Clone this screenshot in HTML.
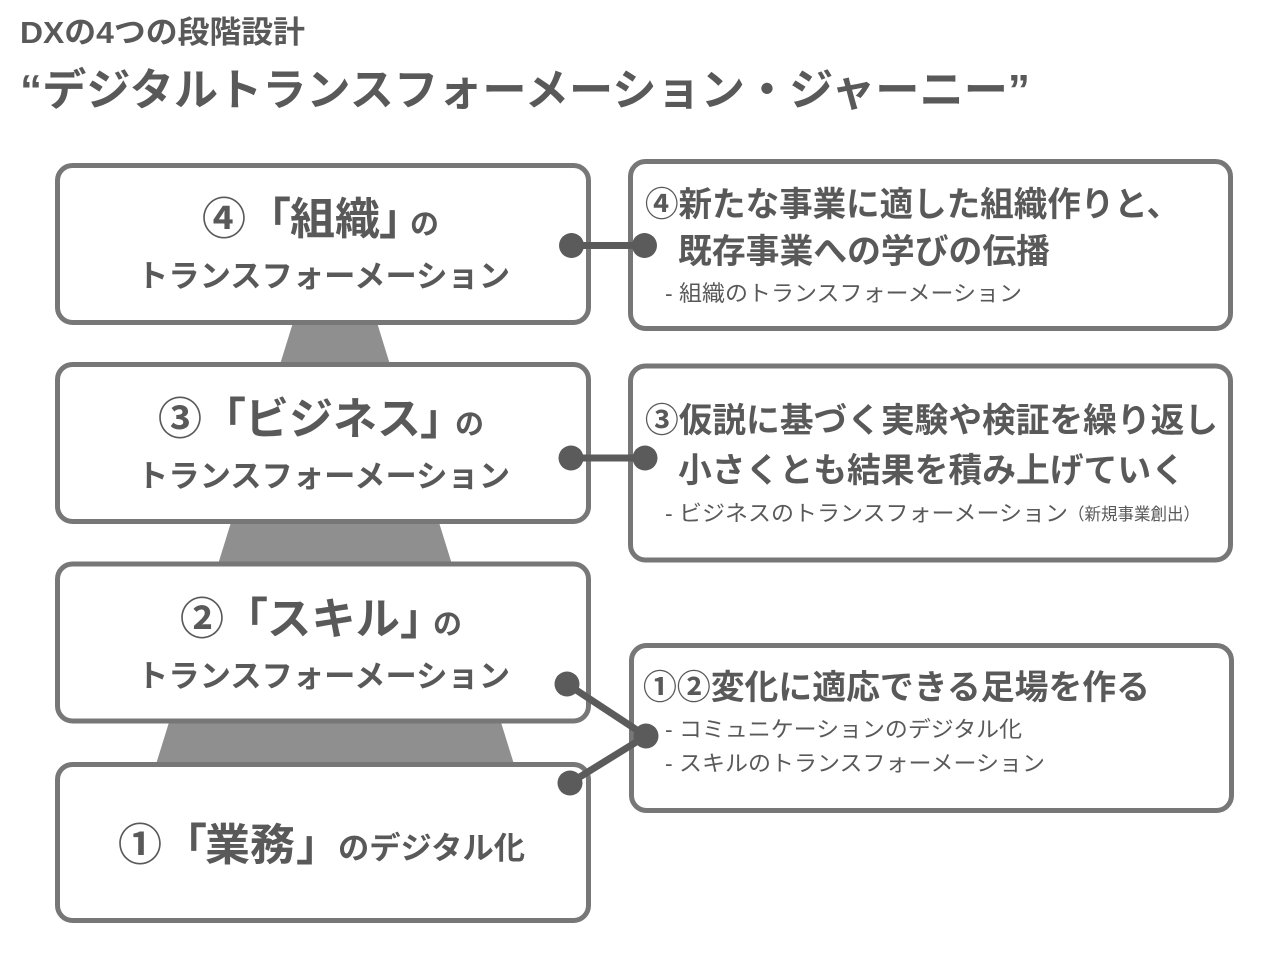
<!DOCTYPE html>
<html lang="ja">
<head>
<meta charset="utf-8">
<style>
  html,body{margin:0;padding:0;background:#fff;}
  svg{display:block;}
  text{font-family:"Liberation Sans","Noto Sans CJK JP",sans-serif;fill:#595959;}
  .b{font-weight:bold;}
</style>
</head>
<body>
<svg width="1280" height="954" viewBox="0 0 1280 954" xmlns="http://www.w3.org/2000/svg">
  <rect x="0" y="0" width="1280" height="954" fill="#fff"/>

  <!-- Titles -->
  <text class="b" x="20" y="43" font-size="31" textLength="285" lengthAdjust="spacingAndGlyphs">DXの4つの段階設計</text>
  <text class="b" x="20" y="105" font-size="44" textLength="1010" lengthAdjust="spacingAndGlyphs">“デジタルトランスフォーメーション・ジャーニー”</text>

  <!-- Pyramid behind -->
  <polygon points="300,300 370,300 522,790 148,790" fill="#8f8f8f"/>

  <!-- Left boxes -->
  <g fill="#fff" stroke="#777" stroke-width="5">
    <rect x="57.5" y="165.5" width="531" height="157" rx="15" ry="15"/>
    <rect x="57.5" y="364.5" width="531" height="157" rx="15" ry="15"/>
    <rect x="57.5" y="564" width="531" height="157" rx="15" ry="15"/>
    <rect x="57.5" y="764.5" width="531" height="156" rx="15" ry="15"/>
  </g>

  <!-- Right boxes -->
  <g fill="#fff" stroke="#777" stroke-width="5">
    <rect x="630.5" y="161.5" width="600" height="167" rx="15" ry="15"/>
    <rect x="630.5" y="366" width="600" height="194" rx="15" ry="15"/>
    <rect x="631.5" y="645.5" width="600" height="165" rx="15" ry="15"/>
  </g>

  <!-- Box 4 text -->
  <text class="b" x="202" y="234" font-size="44">④</text>
  <text class="b" x="247" y="234" font-size="44">「</text>
  <text class="b" x="290" y="234" font-size="44" textLength="90" lengthAdjust="spacingAndGlyphs">組織</text>
  <text class="b" x="379" y="234" font-size="44">」</text>
  <text class="b" x="410" y="234" font-size="29">の</text>
  <text class="b" x="137" y="287" font-size="31" textLength="373" lengthAdjust="spacingAndGlyphs">トランスフォーメーション</text>

  <!-- Box 3 text -->
  <text class="b" x="158" y="434" font-size="44">③</text>
  <text class="b" x="202" y="434" font-size="44">「</text>
  <text class="b" x="245" y="434" font-size="44" textLength="176" lengthAdjust="spacingAndGlyphs">ビジネス</text>
  <text class="b" x="420" y="434" font-size="44">」</text>
  <text class="b" x="455" y="434" font-size="29">の</text>
  <text class="b" x="137" y="487" font-size="31" textLength="373" lengthAdjust="spacingAndGlyphs">トランスフォーメーション</text>

  <!-- Box 2 text -->
  <text class="b" x="180" y="634" font-size="44">②</text>
  <text class="b" x="224" y="634" font-size="44">「</text>
  <text class="b" x="267" y="634" font-size="44" textLength="133" lengthAdjust="spacingAndGlyphs">スキル</text>
  <text class="b" x="400" y="634" font-size="44">」</text>
  <text class="b" x="433" y="634" font-size="29">の</text>
  <text class="b" x="137" y="687" font-size="31" textLength="373" lengthAdjust="spacingAndGlyphs">トランスフォーメーション</text>

  <!-- Box 1 text -->
  <text class="b" x="118" y="860" font-size="44">①</text>
  <text class="b" x="163" y="860" font-size="44">「</text>
  <text class="b" x="205" y="860" font-size="44" textLength="90" lengthAdjust="spacingAndGlyphs">業務</text>
  <text class="b" x="296" y="860" font-size="44">」</text>
  <text class="b" x="338" y="859" font-size="31" textLength="187" lengthAdjust="spacingAndGlyphs">のデジタル化</text>

  <!-- Right box A text -->
  <text class="b" x="645" y="216" font-size="34" textLength="535" lengthAdjust="spacingAndGlyphs">④新たな事業に適した組織作りと、</text>
  <text class="b" x="678" y="263" font-size="34" textLength="372" lengthAdjust="spacingAndGlyphs">既存事業への学びの伝播</text>
  <text x="665" y="301" font-size="22" textLength="357" lengthAdjust="spacingAndGlyphs">- 組織のトランスフォーメーション</text>

  <!-- Right box B text -->
  <text class="b" x="645" y="432" font-size="34" textLength="573" lengthAdjust="spacingAndGlyphs">③仮説に基づく実験や検証を繰り返し</text>
  <text class="b" x="678" y="482" font-size="34" textLength="507" lengthAdjust="spacingAndGlyphs">小さくとも結果を積み上げていく</text>
  <text x="665" y="521" font-size="22" textLength="403" lengthAdjust="spacingAndGlyphs">- ビジネスのトランスフォーメーション</text>
  <text x="1068" y="520" font-size="17" textLength="132" lengthAdjust="spacingAndGlyphs">（新規事業創出）</text>

  <!-- Right box C text -->
  <text class="b" x="643" y="699" font-size="34" textLength="507" lengthAdjust="spacingAndGlyphs">①②変化に適応できる足場を作る</text>
  <text x="665" y="737" font-size="22" textLength="357" lengthAdjust="spacingAndGlyphs">- コミュニケーションのデジタル化</text>
  <text x="665" y="771" font-size="22" textLength="380" lengthAdjust="spacingAndGlyphs">- スキルのトランスフォーメーション</text>

  <!-- Connectors -->
  <g stroke="#5b5b5b" stroke-width="7" stroke-linecap="round" fill="none">
    <line x1="571.5" y1="245.5" x2="644.5" y2="245.5"/>
    <line x1="571" y1="458" x2="645" y2="458"/>
    <line x1="567" y1="684" x2="646" y2="736"/>
    <line x1="646" y1="736" x2="570" y2="783"/>
  </g>
  <g fill="#5b5b5b">
    <circle cx="571.5" cy="245.5" r="12.5"/>
    <circle cx="644.5" cy="245.5" r="12.5"/>
    <circle cx="571" cy="458" r="12.5"/>
    <circle cx="645" cy="458" r="12.5"/>
    <circle cx="567" cy="684" r="12.5"/>
    <circle cx="646" cy="736" r="12.5"/>
    <circle cx="570" cy="783" r="12.5"/>
  </g>
</svg>
</body>
</html>
